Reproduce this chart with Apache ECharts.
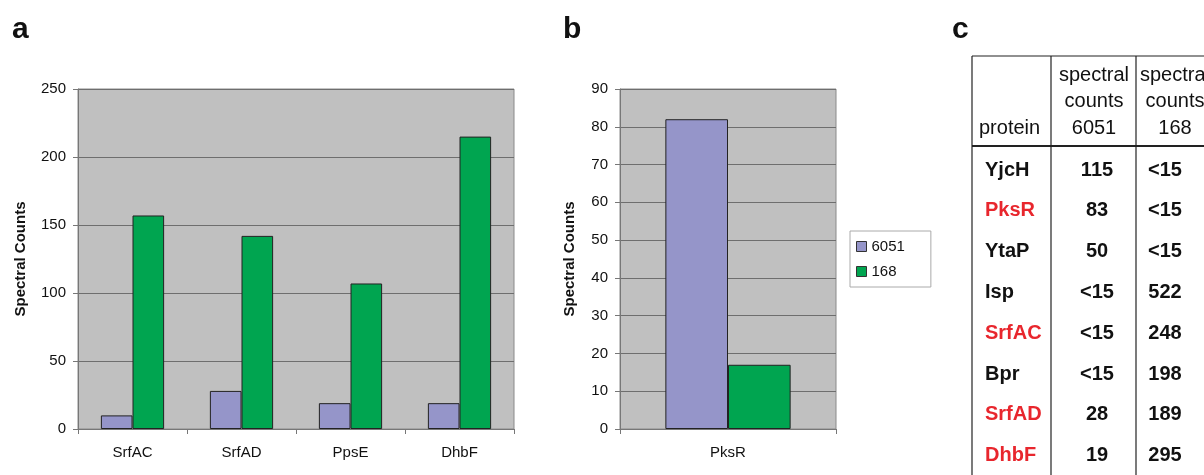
<!DOCTYPE html>
<html>
<head>
<meta charset="utf-8">
<title>Spectral counts</title>
<script src="https://cdn.jsdelivr.net/npm/echarts@6/dist/echarts.min.js"></script>
<style>
  html, body { margin: 0; padding: 0; background: #fff; }
  #chart { width: 1204px; height: 475px; }
</style>
</head>
<body>
<div id="chart"></div>
<script>
  // data
  const strainNames = ['6051', '168'];
  const proteinsA = ['SrfAC', 'SrfAD', 'PpsE', 'DhbF'];
  const countsA6051 = [10, 28, 19, 19];
  const countsA168 = [157, 142, 107, 215];
  const proteinsB = ['PksR'];
  const countsB6051 = [82];
  const countsB168 = [17];
  const tableHeader = [['protein'], ['spectral', 'counts', '6051'], ['spectral', 'counts', '168']];
  const tableProteins = ['YjcH', 'PksR', 'YtaP', 'Isp', 'SrfAC', 'Bpr', 'SrfAD', 'DhbF'];
  const table6051 = ['115', '83', '50', '<15', '<15', '<15', '28', '19'];
  const table168 = ['<15', '<15', '<15', '522', '248', '198', '189', '295'];
  const tableRed = ['PksR', 'SrfAC', 'SrfAD', 'DhbF'];

  const FONT = '"Liberation Sans", Arial, sans-serif';
  const colors = ['#9595c9', '#00a550'];
  const RED = '#e8262d';

  let myChart = echarts.init(document.getElementById('chart'));

  function makeX(idx, data) {
    return {
      type: 'category',
      gridIndex: idx,
      data: data,
      axisLine: { lineStyle: { color: '#777', width: 1 } },
      axisTick: { show: true, length: 5, lineStyle: { color: '#777' } },
      axisLabel: { fontSize: 15, color: '#111', fontFamily: FONT, margin: 16 }
    };
  }

  function makeY(idx, max, step, gap) {
    return {
      type: 'value',
      gridIndex: idx,
      min: 0,
      max: max,
      interval: step,
      name: 'Spectral Counts',
      nameLocation: 'middle',
      nameGap: gap,
      nameTextStyle: { fontSize: 15, fontWeight: 'bold', color: '#111', fontFamily: FONT },
      axisLine: { show: true, lineStyle: { color: '#777', width: 1 } },
      axisTick: { show: true, length: 5, lineStyle: { color: '#777' } },
      axisLabel: { fontSize: 15, color: '#111', fontFamily: FONT, margin: 12 },
      splitLine: { lineStyle: { color: '#6e6e6e', width: 1 } }
    };
  }

  function makeBar(name, data, idx, color) {
    return {
      name: name,
      type: 'bar',
      xAxisIndex: idx,
      yAxisIndex: idx,
      data: data,
      barGap: '0%',
      barCategoryGap: '42%',
      itemStyle: { color: color, borderColor: '#222', borderWidth: 1 }
    };
  }

  // table c, built as graphic elements
  const tLeft = 972, tTop = 56, tHeadBottom = 146, rowH = 40.8, firstRow = 170;
  const colX = [972, 1051, 1136];
  const headCenters = [979, 1094, 1175];
  const valCenters = [985, 1097, 1165];
  let tableGraphic = [];
  // border lines
  tableGraphic.push({ type: 'line', shape: { x1: tLeft, y1: tTop, x2: 1204, y2: tTop }, style: { stroke: '#222', lineWidth: 1.2 } });
  tableGraphic.push({ type: 'line', shape: { x1: tLeft, y1: tHeadBottom, x2: 1204, y2: tHeadBottom }, style: { stroke: '#222', lineWidth: 2 } });
  colX.forEach(function (x) {
    tableGraphic.push({ type: 'line', shape: { x1: x, y1: tTop, x2: x, y2: 475 }, style: { stroke: '#222', lineWidth: 1.2 } });
  });
  // header text, bottom aligned
  tableHeader.forEach(function (lines, c) {
    lines.forEach(function (txt, i) {
      let y = 128 - (lines.length - 1 - i) * 26.5;
      tableGraphic.push({
        type: 'text', x: headCenters[c], y: y,
        style: { text: txt, fontSize: 20, fontFamily: FONT, fill: '#111',
                 align: c === 0 ? 'left' : 'center', verticalAlign: 'middle' }
      });
    });
  });
  // rows
  tableProteins.forEach(function (p, r) {
    let y = firstRow + r * rowH;
    let cells = [p, table6051[r], table168[r]];
    cells.forEach(function (txt, c) {
      tableGraphic.push({
        type: 'text', x: valCenters[c], y: y,
        style: { text: txt, fontSize: 20, fontWeight: 'bold', fontFamily: FONT,
                 fill: (c === 0 && tableRed.indexOf(p) >= 0) ? RED : '#111',
                 align: c === 0 ? 'left' : 'center', verticalAlign: 'middle' }
      });
    });
  });

  // panel letters
  const letters = [['a', 12], ['b', 563], ['c', 952]];
  letters.forEach(function (l) {
    tableGraphic.push({
      type: 'text', x: l[1], y: 30,
      style: { text: l[0], fontSize: 30, fontWeight: 'bold', fontFamily: FONT, fill: '#111', verticalAlign: 'middle' }
    });
  });

  myChart.setOption({
    animation: false,
    textStyle: { fontFamily: FONT },
    grid: [
      { left: 78, top: 89, width: 436, height: 340, show: true, backgroundColor: '#c0c0c0', borderColor: '#8a8a8a', borderWidth: 1 },
      { left: 620, top: 89, width: 216, height: 340, show: true, backgroundColor: '#c0c0c0', borderColor: '#8a8a8a', borderWidth: 1 }
    ],
    legend: {
      data: strainNames,
      orient: 'vertical',
      left: 850,
      top: 231,
      icon: 'rect',
      itemWidth: 10,
      itemHeight: 10,
      itemGap: 10,
      padding: [8, 26, 8, 6],
      borderColor: '#aaa',
      borderWidth: 1,
      itemStyle: { borderColor: '#333', borderWidth: 1 },
      textStyle: { fontSize: 15, color: '#111', fontFamily: FONT }
    },
    xAxis: [makeX(0, proteinsA), makeX(1, proteinsB)],
    yAxis: [makeY(0, 250, 50, 50), makeY(1, 90, 10, 43)],
    series: [
      makeBar(strainNames[0], countsA6051, 0, colors[0]),
      makeBar(strainNames[1], countsA168, 0, colors[1]),
      makeBar(strainNames[0], countsB6051, 1, colors[0]),
      makeBar(strainNames[1], countsB168, 1, colors[1])
    ],
    graphic: tableGraphic
  });
</script>
</body>
</html>
